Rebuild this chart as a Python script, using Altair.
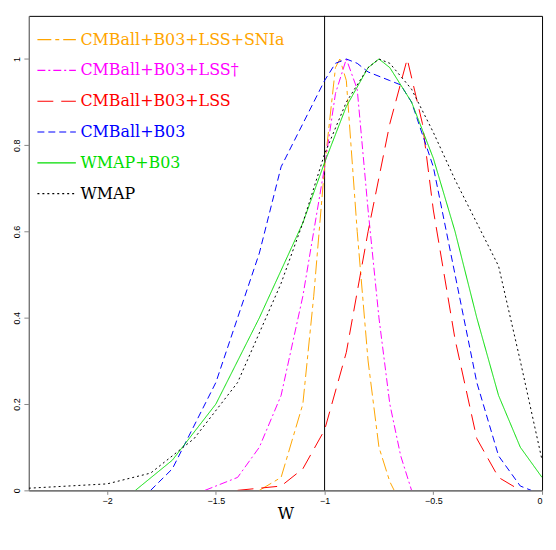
import altair as alt
import pandas as pd

names = ["CMBall+B03+LSS+SNIa", "CMBall+B03+LSS\u2020", "CMBall+B03+LSS",
         "CMBall+B03", "WMAP+B03", "WMAP"]
colors = ["orange", "magenta", "red", "blue", "#00dd00", "black"]
dashes = [[14, 4, 4, 4], [8, 3, 2, 3], [16, 8], [7, 4], [1, 0], [2, 3]]

w_wmap = [-2.36, -2.0, -1.8, -1.6, -1.4, -1.2, -1.1, -1.0, -0.9, -0.8, -0.75, -0.7, -0.6, -0.5, -0.4, -0.3, -0.2, -0.1, 0.0]
p_wmap = [0.005, 0.015, 0.04, 0.12, 0.25, 0.48, 0.62, 0.78, 0.9, 0.98, 1.0, 0.99, 0.93, 0.83, 0.72, 0.62, 0.52, 0.3, 0.07]
w_wb = [-1.87, -1.7, -1.5, -1.3, -1.1, -1.0, -0.9, -0.8, -0.75, -0.7, -0.6, -0.5, -0.4, -0.3, -0.2, -0.1, 0.0]
p_wb = [0.0, 0.07, 0.2, 0.4, 0.62, 0.76, 0.89, 0.98, 1.0, 0.98, 0.9, 0.77, 0.6, 0.4, 0.22, 0.1, 0.03]
w_cb = [-1.8, -1.7, -1.5, -1.3, -1.2, -1.1, -1.0, -0.95, -0.9, -0.85, -0.8, -0.7, -0.65, -0.6, -0.5, -0.4, -0.3, -0.2, -0.1, -0.05]
p_cb = [0.0, 0.05, 0.25, 0.55, 0.75, 0.85, 0.95, 0.99, 1.0, 0.99, 0.97, 0.95, 0.94, 0.9, 0.75, 0.5, 0.25, 0.08, 0.01, 0.0]
w_cbl = [-1.4, -1.2, -1.1, -1.0, -0.9, -0.8, -0.7, -0.62, -0.55, -0.5, -0.4, -0.3, -0.2, -0.1]
p_cbl = [0.0, 0.01, 0.05, 0.14, 0.32, 0.6, 0.85, 1.0, 0.85, 0.65, 0.35, 0.12, 0.03, 0.0]
w_dag = [-1.55, -1.4, -1.3, -1.2, -1.1, -1.0, -0.95, -0.9, -0.85, -0.8, -0.75, -0.7, -0.65, -0.6]
p_dag = [0.0, 0.03, 0.1, 0.22, 0.45, 0.75, 0.92, 1.0, 0.93, 0.65, 0.4, 0.2, 0.08, 0.0]
w_sn = [-1.3, -1.2, -1.1, -1.05, -1.0, -0.95, -0.93, -0.9, -0.85, -0.8, -0.75, -0.7, -0.68]
p_sn = [0.0, 0.03, 0.2, 0.45, 0.75, 0.98, 1.0, 0.95, 0.6, 0.3, 0.1, 0.02, 0.0]

series = [(w_sn, p_sn), (w_dag, p_dag), (w_cbl, p_cbl), (w_cb, p_cb), (w_wb, p_wb), (w_wmap, p_wmap)]
rows = []
for name, (ws, ps) in zip(names, series):
    for w, p in zip(ws, ps):
        rows.append({"name": name, "w": w, "p": p})
df = pd.DataFrame(rows)

lines = alt.Chart(df).mark_line(strokeWidth=1, clip=True).encode(
    x=alt.X("w:Q", title="W", scale=alt.Scale(domain=[-2.36, 0], nice=False),
            axis=alt.Axis(values=[-2, -1.5, -1, -0.5, 0], format="~g", grid=False, tickSize=4,
                          labelFontSize=9, titleFontSize=16, titleFont="DejaVu Serif",
                          titleFontWeight="normal", titlePadding=0)),
    y=alt.Y("p:Q", title=None, scale=alt.Scale(domain=[0, 1.1], nice=False),
            axis=alt.Axis(values=[0, 0.2, 0.4, 0.6, 0.8, 1], format="~g", grid=False, labelAngle=270,
                          labelFontSize=9, labelAlign="center", labelBaseline="bottom")),
    color=alt.Color("name:N", sort=names, scale=alt.Scale(domain=names, range=colors),
                    legend=alt.Legend(title=None, orient="none", legendX=8, legendY=4,
                                      symbolType="stroke", symbolSize=1500, symbolStrokeWidth=1.2,
                                      labelFontSize=16, labelFont="DejaVu Serif", labelLimit=400,
                                      rowPadding=3,
                                      labelColor={"expr": "scale('color', datum.value)"})),
    strokeDash=alt.StrokeDash("name:N", sort=names,
                              scale=alt.Scale(domain=names, range=dashes), legend=None),
    detail="name:N",
)

vline = alt.Chart(pd.DataFrame({"w": [-1.0]})).mark_rule(color="black", strokeWidth=1).encode(x="w:Q")

chart = alt.layer(vline, lines).properties(width=517, height=478).configure_view(
    stroke="black", strokeWidth=1
)

chart.save("out.html", embed_options={"renderer": "svg", "actions": False})
